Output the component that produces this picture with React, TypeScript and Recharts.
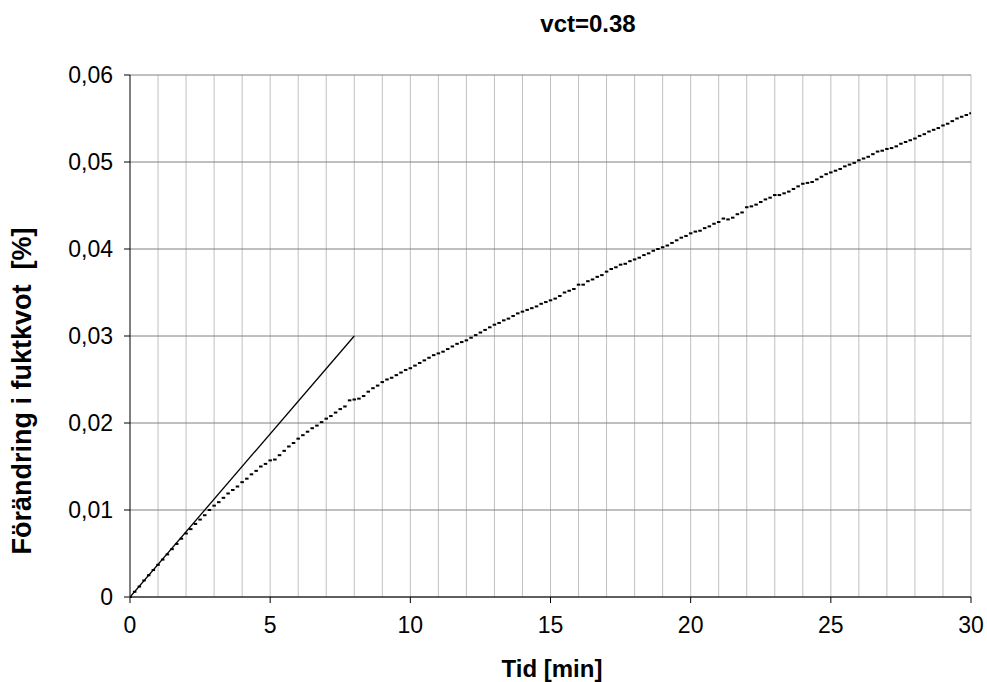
import React from 'react'
import { LineChart, Line, XAxis, YAxis, CartesianGrid } from 'recharts'

// measured change in moisture ratio, sampled every 10 s (1/6 min), 0..30 min
const SAMPLE_STEP_MIN = 1 / 6
const fuktkvot: number[] = [
  0.0, 0.0006, 0.0012, 0.0019, 0.0025, 0.0031,
  0.0037, 0.0043, 0.0049, 0.0055, 0.0061, 0.0067,
  0.0073, 0.0078, 0.0084, 0.0089, 0.0094, 0.01,
  0.0105, 0.0109, 0.0114, 0.0119, 0.0123, 0.0127,
  0.0132, 0.0136, 0.0141, 0.0145, 0.015, 0.0153,
  0.0157, 0.0158, 0.0163, 0.0168, 0.0173, 0.0177,
  0.0182, 0.0186, 0.019, 0.0194, 0.0197, 0.0201,
  0.0205, 0.0208, 0.0212, 0.0216, 0.0219, 0.0226,
  0.0227, 0.0228, 0.0231, 0.0236, 0.024, 0.0243,
  0.0247, 0.025, 0.0252, 0.0255, 0.0258, 0.0261,
  0.0263, 0.0266, 0.0269, 0.0272, 0.0275, 0.0278,
  0.028, 0.0282, 0.0285, 0.0288, 0.0291, 0.0293,
  0.0295, 0.0298, 0.0301, 0.0304, 0.0307, 0.031,
  0.0313, 0.0315, 0.0318, 0.032, 0.0323, 0.0326,
  0.0328, 0.033, 0.0332, 0.0334, 0.0337, 0.0339,
  0.0341, 0.0343, 0.0346, 0.035, 0.0352, 0.0354,
  0.0359, 0.0359, 0.0363, 0.0365, 0.0368, 0.037,
  0.0374, 0.0377, 0.0379, 0.0382, 0.0383, 0.0386,
  0.0388, 0.039, 0.0393, 0.0395, 0.0398, 0.04,
  0.0402, 0.0404, 0.0407, 0.041, 0.0413, 0.0415,
  0.0418, 0.042, 0.0421, 0.0424, 0.0426, 0.0429,
  0.0431, 0.0435, 0.0434, 0.0436, 0.044, 0.0442,
  0.0448, 0.0449, 0.0451, 0.0454, 0.0457, 0.0459,
  0.0462, 0.0462, 0.0464, 0.0466, 0.0469, 0.0472,
  0.0475, 0.0476, 0.0477, 0.048, 0.0483, 0.0486,
  0.0488, 0.049, 0.0492, 0.0495, 0.0497, 0.0499,
  0.0502, 0.0504, 0.0506, 0.0509, 0.0512, 0.0513,
  0.0515, 0.0516, 0.0518, 0.0521, 0.0523, 0.0525,
  0.0527, 0.053, 0.0532, 0.0535, 0.0537, 0.0539,
  0.0542, 0.0544, 0.0547, 0.055, 0.0552, 0.0554,
  0.0556,
]

// initial slope tangent
const tangentTid = [0, 8]
const tangentVarde = [0, 0.03]

const xTicks = [0, 5, 10, 15, 20, 25, 30]
const yTicks = [0, 0.01, 0.02, 0.03, 0.04, 0.05, 0.06]
const gridMinutes = [1, 2, 3, 4, 5, 6, 7, 8, 9, 10, 11, 12, 13, 14, 15, 16, 17, 18, 19, 20, 21, 22, 23, 24, 25, 26, 27, 28, 29, 30]
const X_MIN = 0
const X_MAX = 30

const FONT = '"Liberation Sans", Arial, sans-serif'

const data = fuktkvot.map((v, i) => ({ tid: i * SAMPLE_STEP_MIN, v }))
const tangent = tangentTid.map((t, i) => ({ tid: t, k: tangentVarde[i] }))

const fmtY = (v: number) => (v === 0 ? '0' : v.toFixed(2).replace('.', ','))

function DashDot(props: any) {
  const { cx, cy } = props
  if (cx == null || cy == null) return null
  return <rect x={cx - 1.75} y={cy - 1} width={3.5} height={2} fill="#000" />
}

export default function App() {
  return (
    <div style={{ position: 'absolute', left: 0, top: 0, width: 987, height: 682, background: '#fff', fontFamily: FONT }}>
      <LineChart width={987} height={682} margin={{ top: 75, right: 16, bottom: 0, left: 0 }} data={data}>
        <CartesianGrid
          horizontal={false}
          stroke="#c0c0c0"
          strokeWidth={1}
          verticalCoordinatesGenerator={({ offset }: any) =>
            gridMinutes.map((m) => offset.left + ((m - X_MIN) / (X_MAX - X_MIN)) * offset.width)
          }
        />
        <CartesianGrid vertical={false} stroke="#808080" strokeWidth={1} />
        <XAxis
          dataKey="tid"
          type="number"
          domain={[X_MIN, X_MAX]}
          ticks={xTicks}
          height={85}
          allowDataOverflow
          stroke="#000"
          tickSize={6}
          tickMargin={14}
          tick={{ fill: '#000', fontSize: 23, fontFamily: FONT }}
          tickLine={{ stroke: '#000' }}
        />
        <YAxis
          type="number"
          domain={[0, 0.06]}
          ticks={yTicks}
          width={130}
          stroke="#000"
          tickSize={6}
          tickMargin={11}
          tickFormatter={fmtY}
          tick={{ fill: '#000', fontSize: 23, fontFamily: FONT }}
          tickLine={{ stroke: '#000' }}
        />
        <Line
          data={tangent}
          dataKey="k"
          stroke="#000"
          strokeWidth={1.3}
          dot={false}
          isAnimationActive={false}
        />
        <Line
          dataKey="v"
          stroke="none"
          dot={<DashDot />}
          activeDot={false}
          isAnimationActive={false}
        />
        <text x={588} y={32} textAnchor="middle" fontSize={24} fontWeight="bold" fontFamily={FONT} fill="#000">
          vct=0.38
        </text>
        <text x={552} y={677} textAnchor="middle" fontSize={24} fontWeight="bold" fontFamily={FONT} fill="#000">
          Tid [min]
        </text>
        <text
          x={0}
          y={0}
          transform="translate(31, 391) rotate(-90)"
          textAnchor="middle"
          fontSize={27}
          fontWeight="bold"
          fontFamily={FONT}
          fill="#000"
        >
          {'Förändring i fuktkvot\u00a0\u00a0[%]'}
        </text>
      </LineChart>
    </div>
  )
}
